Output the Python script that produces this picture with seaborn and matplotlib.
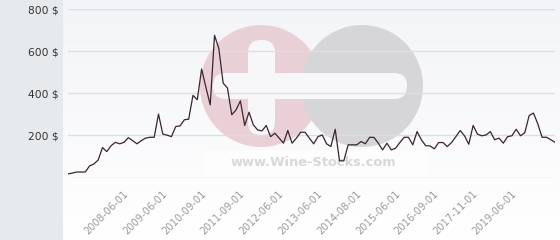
import numpy as np
import pandas as pd
import matplotlib
matplotlib.use("Agg")
import matplotlib.pyplot as plt
import matplotlib.transforms as mtrans
import seaborn as sns
from matplotlib.patches import Circle, FancyBboxPatch, Rectangle

prices = [17, 21, 26, 26, 26, 55, 64, 83, 142, 123,
          151, 167, 160, 167, 189, 175, 160, 175, 187, 191,
          191, 301, 206, 201, 194, 242, 245, 274, 277, 390,
          369, 515, 428, 345, 675, 612, 448, 425, 298, 321,
          364, 247, 310, 250, 226, 221, 247, 194, 210, 187,
          163, 223, 163, 187, 215, 215, 187, 160, 194, 202,
          160, 147, 229, 79, 79, 155, 155, 155, 171, 160,
          191, 190, 163, 131, 163, 131, 139, 166, 191, 191,
          155, 218, 179, 151, 150, 136, 166, 166, 147, 166,
          194, 223, 198, 158, 247, 206, 198, 202, 218, 179,
          187, 163, 194, 198, 229, 198, 213, 294, 306, 255,
          191, 191, 180, 167]
tick_index = [14, 23, 32, 41, 50, 59, 68, 77, 86, 95, 104]
tick_labels = ["2008-06-01", "2009-06-01", "2010-09-01", "2011-09-01",
               "2012-06-01", "2013-06-01", "2014-08-01", "2015-06-01",
               "2016-09-01", "2017-11-01", "2019-06-01"]
y_ticks = [200, 400, 600, 800]
y_labels = ["200 $", "400 $", "600 $", "800 $"]

df = pd.DataFrame({"idx": np.arange(len(prices)), "price": prices})

sns.set_theme(style="white")
plt.rcParams['font.family'] = ['DejaVu Sans']

W, H = 560, 240
fig = plt.figure(figsize=(W / 100, H / 100), dpi=100)
fig.patch.set_facecolor("white")

# background / watermark axes in pixel coordinates
bg = fig.add_axes([0, 0, 1, 1], zorder=0)
bg.set_xlim(0, W)
bg.set_ylim(H, 0)
bg.axis("off")
grad = np.linspace(0, 1, 100).reshape(-1, 1)
top = np.array([0.953, 0.957, 0.969])
bot = np.array([1.0, 1.0, 1.0])
img = (top + (bot - top) * grad[..., None]).reshape(100, 1, 3)
bg.imshow(img, extent=[63, W, H, 0], aspect="auto", zorder=0)
bg.add_patch(Rectangle((0, 0), 63, H, facecolor="#e6eaed", edgecolor="none", zorder=1))
# watermark
bg.add_patch(Circle((261, 86), 61, facecolor="#e9d0d6", edgecolor="none", zorder=2))
bg.add_patch(Circle((362, 86), 61, facecolor="#d6d6d8", edgecolor="none", zorder=2))
bg.add_patch(FancyBboxPatch((213, 73), 194, 26, boxstyle="round,pad=0,rounding_size=13",
                            facecolor="#f7f7f9", edgecolor="none", zorder=3))
bg.add_patch(FancyBboxPatch((248, 40), 27, 95, boxstyle="round,pad=0,rounding_size=13",
                            facecolor="#f7f7f9", edgecolor="none", zorder=3))
bg.add_patch(Rectangle((205, 150), 222, 28, facecolor="#fdfdfe", edgecolor="none", zorder=3))
bg.text(313, 163, "www.Wine-Stocks.com", ha="center", va="center", fontsize=9.4,
        fontweight="bold", color="#d8d8d8", zorder=4)

ax = fig.add_axes([68 / W, (H - 177.5) / H, (555 - 68) / W, (177.5 - 9) / H], zorder=2)
ax.patch.set_alpha(0)
sns.lineplot(data=df, x="idx", y="price", ax=ax, color="#3a2430", linewidth=0.9)
ax.set_xlim(0, len(prices) - 1)
ax.set_ylim(0, 800)
ax.set_yticks([0] + y_ticks)
ax.set_yticklabels([""] + y_labels, fontsize=7.7, color="#333333")
ax.set_xticks(tick_index)
ax.set_xticklabels(tick_labels, rotation=45, ha="right", rotation_mode="anchor",
                   fontsize=7.1, color="#9a9a9a")
ax.tick_params(axis="both", length=0)
ax.tick_params(axis="y", pad=7)
ax.tick_params(axis="x", pad=6)
offset = mtrans.ScaledTranslation(-0.05, -0.03, fig.dpi_scale_trans)
for lbl in ax.get_xticklabels():
    lbl.set_transform(lbl.get_transform() + offset)
ax.grid(axis="y", color="#dedede", linewidth=1)
ax.grid(axis="x", visible=False)
for s in ax.spines.values():
    s.set_visible(False)
ax.set_xlabel("")
ax.set_ylabel("")

fig.savefig("out.png", dpi=100)
